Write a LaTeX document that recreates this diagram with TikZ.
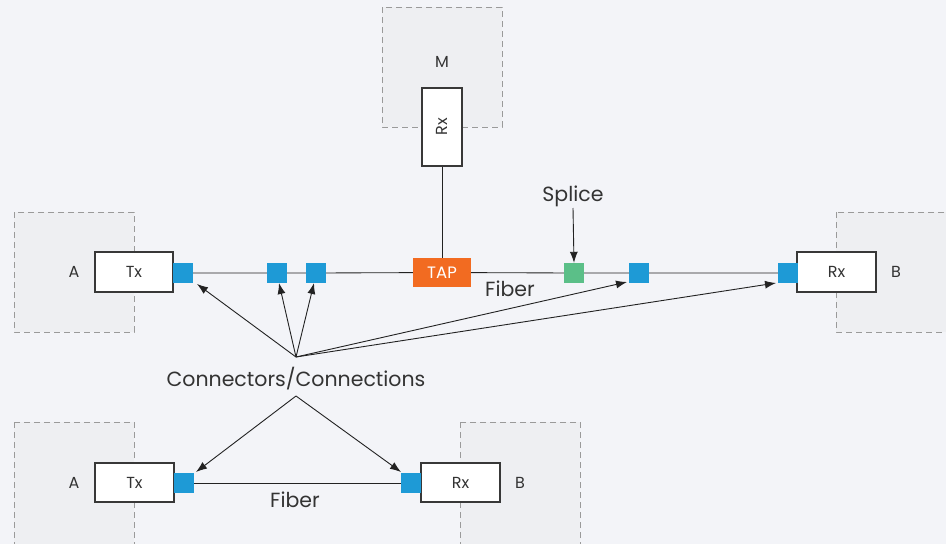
\documentclass[tikz,border=0pt]{standalone}
\usepackage{fontspec}
\setmainfont{Poppins}
\usetikzlibrary{arrows.meta}
\definecolor{bg}{HTML}{F3F4F8}
\definecolor{zone}{HTML}{EEEFF2}
\definecolor{zoneline}{HTML}{9A9A9A}
\definecolor{ink}{HTML}{222222}
\definecolor{txt}{HTML}{333333}
\definecolor{conn}{HTML}{1E9AD6}
\definecolor{tapc}{HTML}{F26B21}
\definecolor{splc}{HTML}{5BBF88}
\tikzset{
  zonebox/.style={draw=zoneline, fill=zone, dash pattern=on 6pt off 4pt, line width=1pt},
  devbox/.style={draw=ink!90, fill=white, line width=1.2pt, inner sep=0pt, font=\fontsize{16}{18}\selectfont, text=txt},
  connsq/.style={fill=conn, minimum width=20pt, minimum height=20pt, inner sep=0pt},
  lbl/.style={font=\fontsize{16}{18}\selectfont, text=txt, inner sep=0pt},
  biglbl/.style={font=\fontsize{20.5}{24}\selectfont, text=txt, inner sep=0pt},
  wire/.style={draw=ink, line width=0.85pt},
  arr/.style={draw=ink, line width=0.9pt, -{Latex[length=11pt,width=8pt]}},
}
\begin{document}
\begin{tikzpicture}[x=1pt,y=-1pt]
\useasboundingbox[fill=bg] (0,0) rectangle (946,544);
\clip (0,0) rectangle (946,544);
% zones
\draw[zonebox] (14,212) rectangle (134,332);
\draw[zonebox] (382,7) rectangle (502,127);
\draw[zonebox] (836,212) rectangle (960,332);
\draw[zonebox] (14,422) rectangle (134,560);
\draw[zonebox] (460,422) rectangle (580,560);
% top row
\node[lbl] (lA) at (74,272) {A};
\node[lbl] (lM) at (442,62) {M};
\node[lbl] (lB) at (896,272) {B};
\node[devbox, minimum width=78pt, minimum height=40pt] (tx) at (134,272) {Tx};
\node[devbox, minimum width=40pt, minimum height=78pt] (rxm) at (442,127) {\rotatebox{90}{Rx}};
\node[devbox, minimum width=79pt, minimum height=40pt] (rxb) at (836.5,272) {Rx};
\node[connsq] (c1) at (183,273) {};
\node[connsq] (c2) at (277,273) {};
\node[connsq] (c3) at (316,273) {};
\node[fill=tapc, minimum width=58pt, minimum height=29pt, inner sep=0pt, text=white, font=\fontsize{16.5}{18}\selectfont] (tap) at (442,272.5) {TAP};
\node[fill=splc, minimum width=20pt, minimum height=20pt, inner sep=0pt] (spl) at (574,273) {};
\node[connsq] (c4) at (639,273) {};
\node[connsq] (c5) at (788,273) {};
\draw[wire] (c1) -- (c2) (c2) -- (c3) (c3) -- (tap) (tap) -- (spl) (spl) -- (c4) (c4) -- (c5);
\draw[wire] (tap.north) -- (rxm.south);
\node[biglbl] (splice) at (573,196) {Splice};
\node[biglbl] (fib1) at (510,289) {Fiber};
\coordinate (sa) at (573,208);
\draw[arr] (sa) -- (spl.north);
% connectors label
\node[biglbl] (cc) at (296,379) {Connectors/Connections};
\coordinate (o1) at (296,357);
\coordinate (o2) at (296,396);
\coordinate (t1) at (197,284);
\coordinate (t2) at (279,283);
\coordinate (t3) at (314,283);
\coordinate (t4) at (627,282);
\coordinate (t5) at (776,283);
\draw[arr] (o1) -- (t1);
\draw[arr] (o1) -- (t2);
\draw[arr] (o1) -- (t3);
\draw[arr] (o1) -- (t4);
\draw[arr] (o1) -- (t5);
% bottom row
\node[lbl] (lA2) at (74,483) {A};
\node[lbl] (lB2) at (520,483) {B};
\node[devbox, minimum width=79pt, minimum height=39pt] (tx2) at (134.5,482.5) {Tx};
\node[devbox, minimum width=79pt, minimum height=39pt] (rx2) at (460.5,482.5) {Rx};
\node[connsq] (d1) at (184,483) {};
\node[connsq] (d2) at (411,483) {};
\draw[wire] (d1) -- (d2);
\node[biglbl] (fib2) at (295,500) {Fiber};
\coordinate (b1) at (196,472);
\coordinate (b2) at (401,472);
\draw[arr] (o2) -- (b1);
\draw[arr] (o2) -- (b2);
\end{tikzpicture}
\end{document}
